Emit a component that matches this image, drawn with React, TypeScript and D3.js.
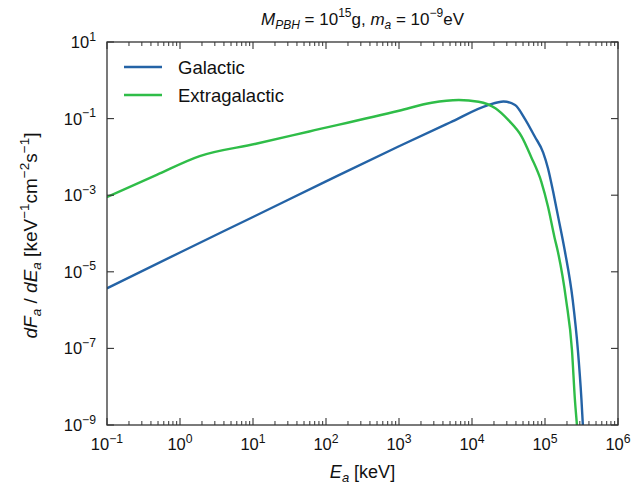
import React from 'react';
import * as d3 from 'd3';

// ---- data ----
const xTickExps = [-1, 0, 1, 2, 3, 4, 5, 6];
const yTickExps = [1, -1, -3, -5, -7, -9];

const galacticE = [0.1, 1, 10, 100, 1000, 5000, 16600, 27000, 38900, 52500, 72400, 94400, 110000, 129000, 151000, 186000, 240000, 282000, 316000, 331000, 345000];
const galacticF = [3.7e-6, 3.2e-5, 2.7e-4, 2.3e-3, 1.9e-2, 7.9e-2, 0.226, 0.28, 0.226, 0.102, 0.034, 0.013, 5.0e-3, 1.26e-3, 2.8e-4, 3.7e-5, 1.8e-6, 9.1e-8, 4.5e-9, 9.1e-10, 2.5e-10];

const extraE = [0.1, 0.48, 1.86, 11, 59, 1000, 2800, 6600, 12300, 20900, 31600, 47900, 64600, 89100, 110000, 135000, 151000, 195000, 234000, 257000, 275000, 290000];
const extraF = [8.9e-4, 3.4e-3, 1.05e-2, 2.2e-2, 4.6e-2, 0.16, 0.26, 0.305, 0.275, 0.186, 0.091, 0.034, 1.0e-2, 2.24e-3, 5.0e-4, 7.9e-5, 3.2e-5, 1.8e-6, 9.1e-8, 4.5e-9, 9.1e-10, 2.5e-10];

const seriesNames = ['Galactic', 'Extragalactic'];
const seriesColors = ['#2463a6', '#2fbd48'];

const W = 644;
const H = 488;
const PL = 107, PR = 618, PT = 42, PB = 425;
const FONT = "'Liberation Sans', Arial, Helvetica, sans-serif";

function Pow10({ e, x, y, anchor, fs }: { e: number; x: number; y: number; anchor: string; fs: number }) {
  const sup = e < 0 ? '\u2212' + Math.abs(e) : String(e);
  return (
    <text x={x} y={y} textAnchor={anchor} fontSize={fs} fontFamily={FONT} fill="#111">
      10<tspan dy={-fs * 0.45} fontSize={fs * 0.74}>{sup}</tspan>
    </text>
  );
}

export default function App() {
  const x = d3.scaleLog().domain([1e-1, 1e6]).range([PL, PR]);
  const y = d3.scaleLog().domain([1e-9, 1e1]).range([PB, PT]);
  const line = d3
    .line<[number, number]>()
    .x((d) => x(d[0]))
    .y((d) => y(d[1]))
    .curve(d3.curveMonotoneX);

  const gal: [number, number][] = galacticE.map((e, i) => [e, galacticF[i]]);
  const ext: [number, number][] = extraE.map((e, i) => [e, extraF[i]]);
  const series = [gal, ext];

  const minor: number[] = [];
  for (let e = -1; e < 6; e++) for (let k = 2; k <= 9; k++) minor.push(k * Math.pow(10, e));

  const axisColor = '#333';
  const fsTick = 16.5;

  return (
    <svg width={W} height={H} style={{ position: 'absolute', left: 0, top: 0, background: '#fff' }}>
      <defs>
        <clipPath id="plotclip">
          <rect x={PL} y={PT} width={PR - PL} height={PB - PT} />
        </clipPath>
      </defs>
      <rect x={0} y={0} width={W} height={H} fill="#fff" />

      {/* curves */}
      <g clipPath="url(#plotclip)">
        {series.map((s, i) => (
          <path key={i} d={line(s) || ''} fill="none" stroke={seriesColors[i]} strokeWidth={2.4} strokeLinejoin="round" />
        ))}
      </g>

      {/* frame */}
      <rect x={PL} y={PT} width={PR - PL} height={PB - PT} fill="none" stroke={axisColor} strokeWidth={1.3} />

      {/* x ticks */}
      {xTickExps.map((e) => {
        const xx = x(Math.pow(10, e));
        return (
          <g key={'xt' + e}>
            <line x1={xx} x2={xx} y1={PB} y2={PB - 7} stroke={axisColor} strokeWidth={1.1} />
            <line x1={xx} x2={xx} y1={PT} y2={PT + 7} stroke={axisColor} strokeWidth={1.1} />
            <Pow10 e={e} x={xx} y={450} anchor="middle" fs={fsTick} />
          </g>
        );
      })}
      {minor.map((v, i) => {
        const xx = x(v);
        return (
          <g key={'xm' + i}>
            <line x1={xx} x2={xx} y1={PB} y2={PB - 4} stroke={axisColor} strokeWidth={1} />
            <line x1={xx} x2={xx} y1={PT} y2={PT + 4} stroke={axisColor} strokeWidth={1} />
          </g>
        );
      })}

      {/* y ticks */}
      {yTickExps.map((e) => {
        const yy = y(Math.pow(10, e));
        return (
          <g key={'yt' + e}>
            <line x1={PL} x2={PL + 7} y1={yy} y2={yy} stroke={axisColor} strokeWidth={1.1} />
            <line x1={PR} x2={PR - 7} y1={yy} y2={yy} stroke={axisColor} strokeWidth={1.1} />
            <Pow10 e={e} x={96} y={yy + 6} anchor="end" fs={fsTick} />
          </g>
        );
      })}

      {/* legend */}
      {seriesNames.map((n, i) => (
        <g key={n}>
          <line x1={124} x2={162} y1={67 + i * 28} y2={67 + i * 28} stroke={seriesColors[i]} strokeWidth={2.6} />
          <text x={178} y={67 + i * 28 + 6.5} fontSize={18.5} fontFamily={FONT} fill="#111">{n}</text>
        </g>
      ))}

      {/* title */}
      <text x={(PL + PR) / 2} y={25} textAnchor="middle" fontSize={17} fontFamily={FONT} fill="#111">
        <tspan fontStyle="italic">M</tspan>
        <tspan fontStyle="italic" fontSize={12} dy={4}>PBH</tspan>
        <tspan dy={-4}> = 10</tspan>
        <tspan fontSize={12} dy={-8}>15</tspan>
        <tspan dy={8}>g, </tspan>
        <tspan fontStyle="italic">m</tspan>
        <tspan fontStyle="italic" fontSize={12} dy={4}>a</tspan>
        <tspan dy={-4}> = 10</tspan>
        <tspan fontSize={12} dy={-8}>{'\u22129'}</tspan>
        <tspan dy={8}>eV</tspan>
      </text>

      {/* x label */}
      <text x={(PL + PR) / 2} y={478} textAnchor="middle" fontSize={18} fontFamily={FONT} fill="#111">
        <tspan fontStyle="italic">E</tspan>
        <tspan fontStyle="italic" fontSize={13} dy={4}>a</tspan>
        <tspan dy={-4}> [keV]</tspan>
      </text>

      {/* y label */}
      <text
        transform={`translate(37,${(PT + PB) / 2 + 2}) rotate(-90)`}
        textAnchor="middle"
        fontSize={19}
        fontFamily={FONT}
        fill="#111"
      >
        <tspan fontStyle="italic">dF</tspan>
        <tspan fontStyle="italic" fontSize={13.5} dy={4}>a</tspan>
        <tspan dy={-4}>{' / '}</tspan>
        <tspan fontStyle="italic">dE</tspan>
        <tspan fontStyle="italic" fontSize={13.5} dy={4}>a</tspan>
        <tspan dy={-4}> [keV</tspan>
        <tspan fontSize={13.5} dy={-8}>{'\u22121'}</tspan>
        <tspan dy={8}>cm</tspan>
        <tspan fontSize={13.5} dy={-8}>{'\u22122'}</tspan>
        <tspan dy={8}>s</tspan>
        <tspan fontSize={13.5} dy={-8}>{'\u22121'}</tspan>
        <tspan dy={8}>]</tspan>
      </text>
    </svg>
  );
}
